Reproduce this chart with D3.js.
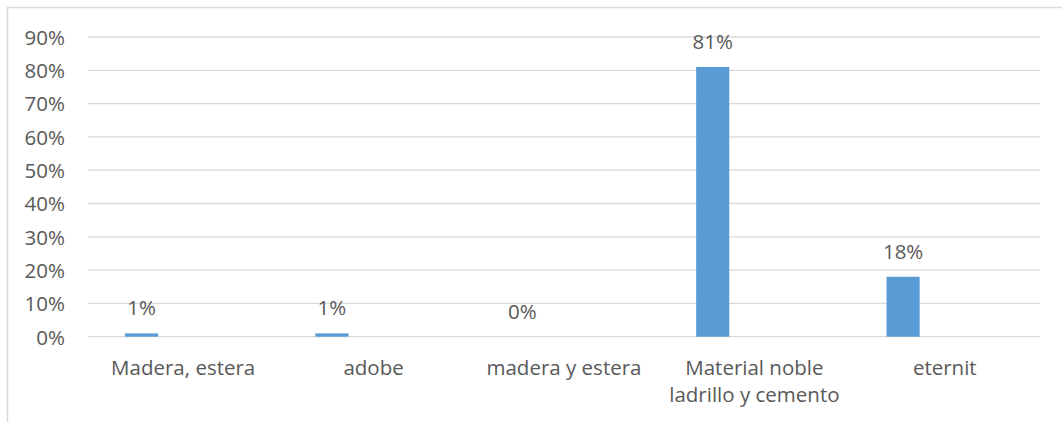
<!DOCTYPE html>
<html><head><meta charset="utf-8">
<script src="https://cdn.jsdelivr.net/npm/d3@7"></script>
<style>
html,body{margin:0;padding:0;background:#fff;}
svg{display:block;}
text{font-family:"Open Sans","Liberation Sans",sans-serif;fill:#595959;}
</style></head>
<body>
<script>
const categories = [["Madera, estera"], ["adobe"], ["madera y estera"], ["Material noble", "ladrillo y cemento"], ["eternit"]];
const values = [0.01, 0.01, 0.00, 0.81, 0.18];
const labels = ["1%", "1%", "0%", "81%", "18%"];
const yTicks = [0, 0.1, 0.2, 0.3, 0.4, 0.5, 0.6, 0.7, 0.8, 0.9];

(function () {
const W = 1062, H = 422, FS = 20.5;
const svg = d3.select("body").append("svg").attr("width", W).attr("height", H);

svg.append("rect").attr("x", 7.5).attr("y", 7.5).attr("width", W + 10).attr("height", H + 10)
  .attr("fill", "none").attr("stroke", "#d9d9d9").attr("stroke-width", 1.5);

const pL = 88, pR = 1040, pT = 37, pB = 336.7;
const x = d3.scaleBand().domain(d3.range(categories.length)).range([pL, pR]).padding(0);
const y = d3.scaleLinear().domain([0, 0.9]).range([pB, pT]);

svg.append("g").selectAll("line").data(yTicks).join("line")
  .attr("x1", pL).attr("x2", pR)
  .attr("y1", d => y(d)).attr("y2", d => y(d))
  .attr("stroke", "#d9d9d9").attr("stroke-width", 1.3);

const yAxis = d3.axisLeft(y).tickValues(yTicks).tickFormat(d3.format(".0%")).tickSize(0).tickPadding(0);
const gy = svg.append("g").attr("transform", "translate(65,0)").call(yAxis);
gy.select(".domain").remove();
gy.selectAll("text").attr("font-size", FS).attr("fill", "#595959")
  .attr("font-family", '"Open Sans","Liberation Sans",sans-serif').attr("dy", "0.36em");

const bw = x.bandwidth();
const barX = i => x(i) + bw * 0.194;
const barW = bw * 0.174;

svg.append("g").selectAll("rect").data(values).join("rect")
  .attr("x", (d, i) => barX(i)).attr("width", barW)
  .attr("y", d => y(d)).attr("height", d => pB - y(d))
  .attr("fill", "#5b9bd5");

svg.append("g").selectAll("text").data(values).join("text")
  .attr("x", (d, i) => barX(i) + barW / 2)
  .attr("y", d => y(d) - 18)
  .attr("text-anchor", "middle").attr("font-size", FS)
  .text((d, i) => labels[i]);

const gx = svg.append("g");
categories.forEach((lines, i) => {
  const t = gx.append("text").attr("text-anchor", "middle").attr("font-size", FS);
  lines.forEach((ln, j) => {
    t.append("tspan").attr("x", x(i) + bw / 2).attr("y", 375 + j * 27).text(ln);
  });
});
})();
</script>
</body></html>
